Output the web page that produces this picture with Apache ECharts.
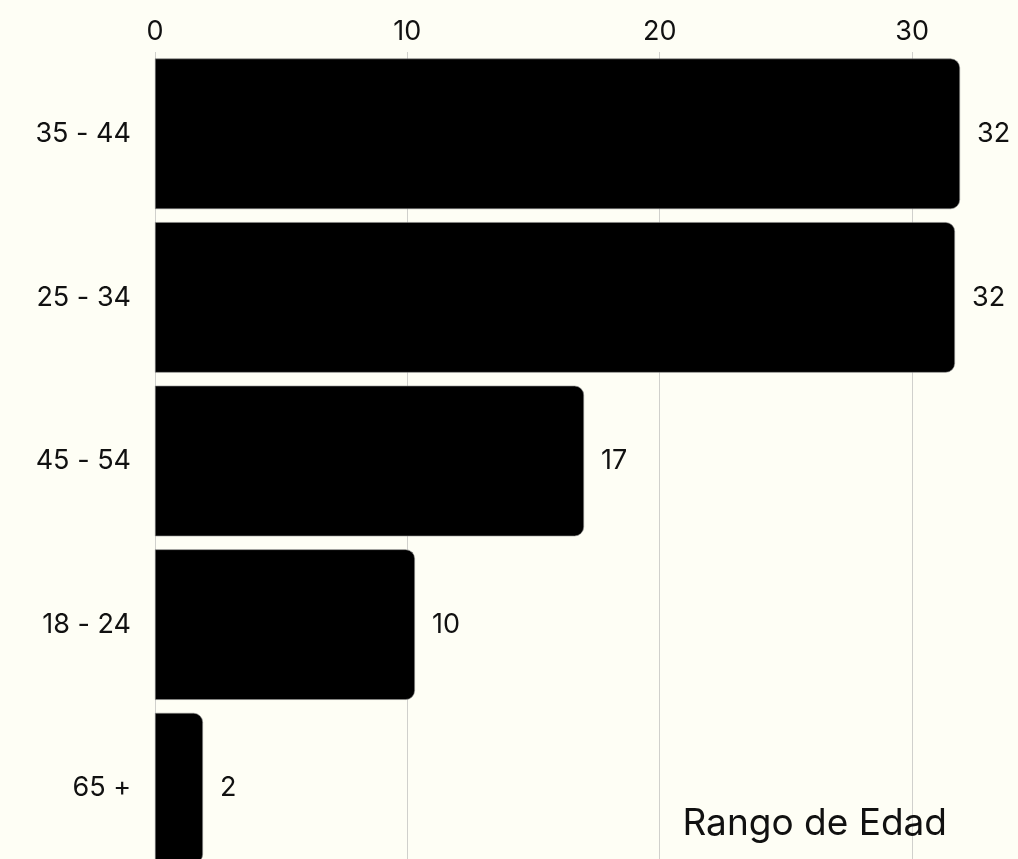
<!DOCTYPE html>
<html>
<head>
<meta charset="utf-8">
<script src="https://cdn.jsdelivr.net/npm/echarts@6/dist/echarts.min.js"></script>
<style>
  html, body { margin: 0; padding: 0; background: #fefef5; }
  #chart { width: 1018px; height: 859px; }
</style>
</head>
<body>
<div id="chart"></div>
<script>
// age groups, ordered from top to bottom
const categories = ['35 - 44', '25 - 34', '45 - 54', '18 - 24', '65 +'];
const values = [31.9, 31.7, 17.0, 10.3, 1.9];
const xTicks = [0, 10, 20, 30];

const FONT = 'Inter, "Noto Sans", sans-serif';

const chart = echarts.init(document.getElementById('chart'));
chart.setOption({
  backgroundColor: '#fefef5',
  animation: false,
  title: {
    text: 'Rango de Edad',
    right: 66,
    bottom: 12,
    textStyle: { fontFamily: FONT, fontSize: 37, fontWeight: 'normal', color: '#111' }
  },
  grid: {
    left: 155, right: 5, top: 52, bottom: -11,
    containLabel: false, outerBoundsMode: 'none'
  },
  xAxis: {
    type: 'value',
    position: 'top',
    min: 0,
    max: 34,
    interval: 10,
    axisLine: { show: false },
    axisTick: { show: false },
    splitLine: { showMaxLine: false, lineStyle: { color: '#d0d0cc', width: 1 } },
    axisLabel: {
      margin: 7,
      showMaxLabel: false,
      fontFamily: FONT,
      fontSize: 27,
      color: '#111',
      formatter: v => (xTicks.includes(v) ? String(v) : '')
    }
  },
  yAxis: {
    type: 'category',
    inverse: true,
    data: categories,
    axisLine: { show: false },
    axisTick: { show: false },
    axisLabel: { margin: 24, fontFamily: FONT, fontSize: 27, color: '#111' }
  },
  series: [{
    type: 'bar',
    data: values,
    barCategoryGap: '8%',
    itemStyle: {
      color: '#000',
      borderColor: '#888',
      borderWidth: 0.6,
      borderRadius: [0, 9, 9, 0]
    },
    label: {
      show: true,
      position: 'right',
      distance: 17,
      fontFamily: FONT,
      fontSize: 27,
      color: '#111',
      formatter: p => Math.round(p.value)
    }
  }]
});
</script>
</body>
</html>
